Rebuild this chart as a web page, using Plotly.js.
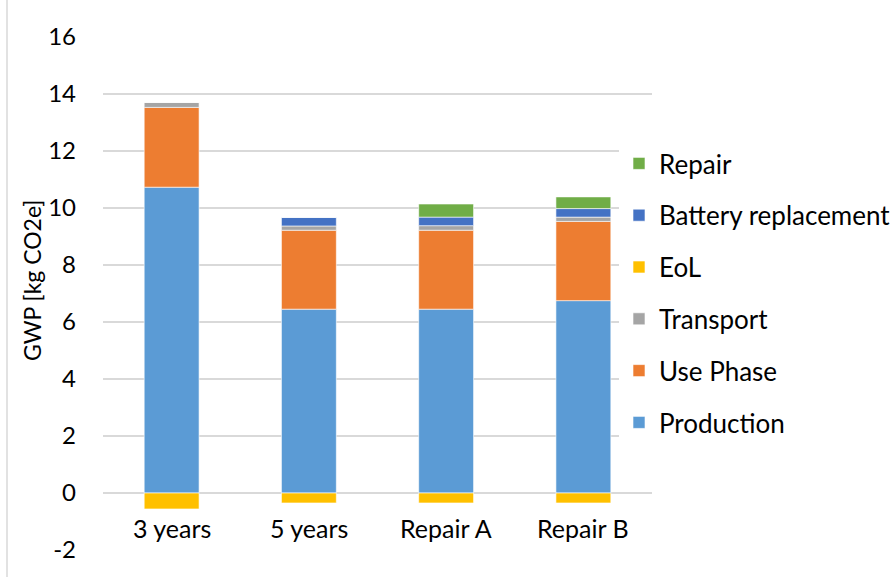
<!DOCTYPE html>
<html>
<head>
<meta charset="utf-8">
<script src="https://cdn.plot.ly/plotly-3.0.1.min.js"></script>
<style>html,body{margin:0;padding:0;background:#fff;}#chart{width:893px;height:577px;}</style>
</head>
<body>
<div id="chart"></div>
<script>
const categories = ["3 years", "5 years", "Repair A", "Repair B"];
const production = [10.73, 6.45, 6.45, 6.75];
const usePhase = [2.80, 2.77, 2.77, 2.78];
const transport = [0.18, 0.15, 0.16, 0.15];
const eol = [-0.56, -0.35, -0.35, -0.35];
const battery = [0, 0.30, 0.30, 0.30];
const repair = [0, 0, 0.46, 0.41];
const yTicks = [-2, 0, 2, 4, 6, 8, 10, 12, 14, 16];
const yTitle = "GWP [kg CO2e]";

const FONT = "Lato, 'Open Sans', sans-serif";
const series = [
  {name: "Production", y: production, color: "#5B9BD5"},
  {name: "Use Phase", y: usePhase, color: "#ED7D31"},
  {name: "Transport", y: transport, color: "#A5A5A5"},
  {name: "EoL", y: eol, color: "#FFC000"},
  {name: "Battery replacement", y: battery, color: "#4472C4"},
  {name: "Repair", y: repair, color: "#70AD47"}
];

const data = series.map((s, i) => ({
  type: "bar",
  name: s.name,
  x: categories,
  y: s.y,
  legendgroup: s.name,
  legendrank: 1000 - i,
  marker: {color: s.color, line: {color: "rgba(255,255,255,0.6)", width: 1}},
  hoverinfo: "x+y+name"
}));

// plot area spans x 103..652 px, y 37..550 px
const annotations = categories.map(c => ({
  x: c, y: 0, xref: "x", yref: "y",
  text: c, showarrow: false,
  yanchor: "middle", yshift: -35,
  font: {family: FONT, size: 25, color: "#000"}
}));
annotations.push({
  xref: "paper", yref: "paper",
  x: (32 - 103) / 549, y: (550 - 281) / 513,
  xanchor: "center", yanchor: "middle",
  textangle: -90, showarrow: false,
  text: yTitle,
  font: {family: FONT, size: 23, color: "#000"}
});

const layout = {
  width: 893, height: 577,
  margin: {l: 103, r: 241, t: 37, b: 27, autoexpand: false},
  paper_bgcolor: "#fff", plot_bgcolor: "#fff",
  barmode: "relative",
  bargap: 0.6,
  font: {family: FONT, size: 24, color: "#000"},
  xaxis: {
    showticklabels: false, showgrid: false, zeroline: false, showline: false,
    ticks: ""
  },
  yaxis: {
    range: [-2, 16], tickvals: yTicks, ticktext: yTicks.map(String),
    showgrid: true, gridcolor: "#D9D9D9", gridwidth: 1.5,
    zeroline: true, zerolinecolor: "#D9D9D9", zerolinewidth: 1.5,
    showline: false, ticks: "", ticklabelstandoff: 26,
    tickfont: {family: FONT, size: 24, color: "#000"}
  },
  legend: {
    xref: "paper",
    x: (619 - 103) / 549, xanchor: "left",
    y: (550 - 293) / 513, yanchor: "middle",
    traceorder: "grouped",
    tracegroupgap: 15,
    bgcolor: "#fff",
    font: {family: FONT, size: 26, color: "#000"},
    itemwidth: 30
  },
  shapes: [{
    type: "line", xref: "paper", yref: "paper",
    x0: (7 - 103) / 549, x1: (7 - 103) / 549, y0: -0.1, y1: 1.1,
    line: {color: "#D9D9D9", width: 1.5}
  }],
  annotations: annotations,
  showlegend: true
};

Plotly.newPlot("chart", data, layout, {displayModeBar: false, staticPlot: true});
</script>
</body>
</html>
